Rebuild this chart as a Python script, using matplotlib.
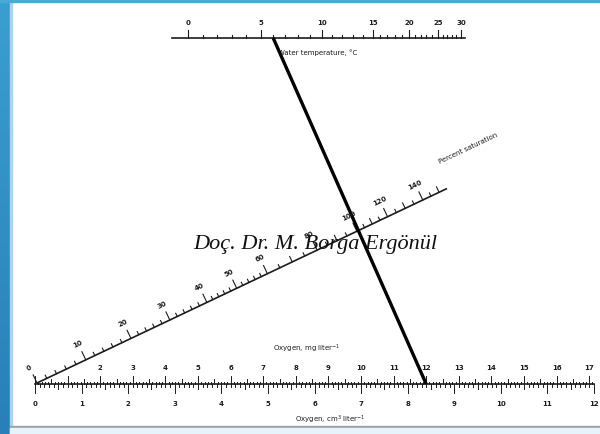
import numpy as np
import matplotlib
matplotlib.use("Agg")
import matplotlib.pyplot as plt
from matplotlib.patches import Rectangle

# ---- data: scale calibrations (value -> distance along scale, px) ----
temp_values = [0, 5, 10, 15, 20, 25, 30]
temp_scale = [16, 89, 150, 201, 237, 266, 289]          # from left end of top bar
temp_labels = ["0", "5", "10", "15", "20", "25", "30"]

mg_labels = [str(v) for v in range(2, 18)]
cm3_labels = [str(v) for v in range(0, 13)]
mg_per_cm3 = 1.429

pct_values = [0, 10, 20, 30, 40, 50, 60, 80, 100, 120, 140, 150]
pct_scale = [0, 54, 104, 147, 188, 221, 255, 310, 354, 388, 427, 445]
pct_labels = ["0", "10", "20", "30", "40", "50", "60", "80", "100", "120", "140", ""]

example_temp = 6.0
example_mg = 12.0

INK = "#1c1c1c"
FS = 5.0
NUMW = "bold"

fig = plt.figure(figsize=(6, 4.35), dpi=100)
ax = fig.add_axes([0, 0, 1, 1])
ax.set_xlim(0, 600)
ax.set_ylim(435, 0)
ax.axis("off")

# ---- slide frame ----
grad = np.linspace(0, 1, 100).reshape(-1, 1)
ax.imshow(grad, extent=(0, 10, 435, 0), aspect="auto",
          cmap=matplotlib.colors.LinearSegmentedColormap.from_list(
              "b", ["#3a9fd0", "#2a7fb8"]), zorder=1)
ax.add_patch(Rectangle((10, 0), 2, 435, color="#a9d6ee", zorder=1))
ax.add_patch(Rectangle((0, 0), 600, 2.5, color="#4aaad6", zorder=1))
ax.add_patch(Rectangle((10, 426.5), 590, 2.5, color="#a0a0a0", zorder=1))
ax.add_patch(Rectangle((10, 429), 590, 6, color="#e6f3fa", zorder=1))

# ---- top scale: water temperature ----
tx0, ty = 172, 39
tx_end = 465
def tpos(v):
    return tx0 + np.interp(v, temp_values, temp_scale)

ax.plot([tx0, tx_end], [ty, ty], color=INK, lw=1.2, zorder=3)
for v in np.arange(0, 31, 1):
    L = 8 if v % 5 == 0 else 3.5
    ax.plot([tpos(v)] * 2, [ty, ty - L], color=INK, lw=0.8, zorder=3)
for v, lab in zip(temp_values, temp_labels):
    ax.text(tpos(v), ty - 16, lab, ha="center", va="center",
            fontsize=FS, fontweight=NUMW, color=INK, zorder=4)
ax.text(318, 53, "Water temperature, °C", ha="center", va="center",
        fontsize=FS, color=INK, zorder=4)

# ---- bottom scale: oxygen ----
bx0, by = 35, 385
px_mg = 32.6
mg_max = 12 * mg_per_cm3
def mpos(mg):
    return bx0 + mg * px_mg

ax.plot([mpos(0), mpos(mg_max)], [by, by], color=INK, lw=1.2, zorder=3)
for i in range(0, int(mg_max * 10) + 1):
    v = i / 10
    if i % 10 == 0:
        L = 8
    elif i % 5 == 0:
        L = 5
    else:
        L = 2.5
    ax.plot([mpos(v)] * 2, [by, by - L], color=INK, lw=0.7, zorder=3)
for i in range(0, 121):
    c = i / 10
    if i % 10 == 0:
        L = 9
    elif i % 5 == 0:
        L = 5
    else:
        L = 2.5
    ax.plot([mpos(c * mg_per_cm3)] * 2, [by, by + L], color=INK, lw=0.7, zorder=3)
for lab in mg_labels:
    ax.text(mpos(float(lab)), by - 17, lab, ha="center", va="center",
            fontsize=FS, fontweight=NUMW, color=INK, zorder=4)
for lab in cm3_labels:
    ax.text(mpos(float(lab) * mg_per_cm3), by + 19, lab, ha="center",
            va="center", fontsize=FS, fontweight=NUMW, color=INK, zorder=4)
ax.text(307, 349, "Oxygen, mg liter$^{-1}$", ha="center", va="center",
        fontsize=FS, color=INK, zorder=4)
ax.text(330, 420, "Oxygen, cm$^3$ liter$^{-1}$", ha="center", va="center",
        fontsize=FS, color=INK, zorder=4)

# ---- diagonal scale: percent saturation ----
ox, oy = 37, 384
theta = np.arctan2(194, 409)
d = np.array([np.cos(theta), -np.sin(theta)])
n = np.array([-np.sin(theta), -np.cos(theta)])
def ppos(v):
    s = np.interp(v, pct_values, pct_scale)
    return np.array([ox, oy]) + s * d

end = np.array([ox, oy]) + 453 * d
ax.plot([ox, end[0]], [oy, end[1]], color=INK, lw=1.2, zorder=3)
ticks = list(np.arange(0, 60, 2)) + list(np.arange(60, 151, 5))
for v in ticks:
    if v in pct_values and v not in (150,):
        L = 9
    elif v % 10 == 0:
        L = 6
    else:
        L = 3.5
    p = ppos(v)
    q = p + L * n
    ax.plot([p[0], q[0]], [p[1], q[1]], color=INK, lw=0.8, zorder=3)
for v, lab in zip(pct_values, pct_labels):
    if not lab:
        continue
    p = ppos(v) + 18 * n
    ax.text(p[0], p[1], lab, ha="center", va="center", rotation=np.degrees(theta),
            rotation_mode="anchor", fontsize=FS, fontweight=NUMW, color=INK,
            zorder=7)
lp = np.array([ox, oy]) + 490 * d + 28 * n
ax.text(lp[0], lp[1], "Percent saturation", ha="center", va="center",
        rotation=np.degrees(theta), rotation_mode="anchor",
        fontsize=FS, color=INK, zorder=4)

# ---- example line ----
ax.plot([tpos(example_temp), mpos(example_mg)], [ty, by], color="black",
        lw=2.4, solid_capstyle="butt", zorder=5)

# ---- watermark ----
ax.text(315, 245, "Doç. Dr. M. Borga Ergönül", ha="center", va="center",
        fontsize=16, fontstyle="italic", family="Liberation Serif",
        color="#111111", zorder=6)

fig.savefig("out.png", dpi=100)
